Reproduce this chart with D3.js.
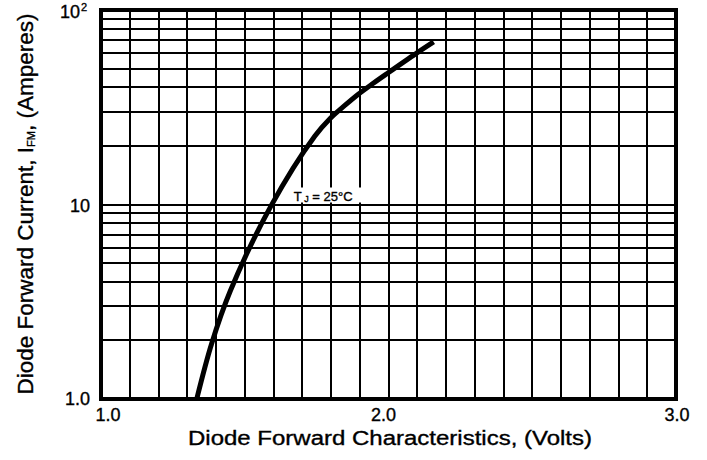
<!DOCTYPE html>
<html><head><meta charset="utf-8">
<script src="https://cdn.jsdelivr.net/npm/d3@7"></script>
<style>
html,body{margin:0;padding:0;background:#fff;}
text{font-family:"Liberation Sans",Arial,Helvetica,sans-serif;fill:#000;stroke:#000;stroke-width:0.35px;}
</style></head>
<body>
<svg id="chart" width="707" height="460"></svg>
<script>
// Data
const voltage = [1.333, 1.385, 1.450, 1.590, 1.744, 1.797, 1.849, 1.895, 1.947, 1.994, 2.098, 2.157];
const current = [1.0, 1.93, 3.6, 9.75, 22.5, 27.7, 32.4, 36.9, 42.0, 47.0, 60.0, 68.5];
const xTicks = [1.0, 2.0, 3.0];
const xTickLabels = ["1.0", "2.0", "3.0"];
const yTickLabels = ["1.0", "10", "10²"];
const yTicks = [1, 10, 100];
const annotation = "25°C";

const svg = d3.select("#chart");
const m = {left: 101, top: 10, right: 676, bottom: 399};
const x = d3.scaleLinear().domain([1, 3]).range([m.left, m.right]);
const y = d3.scaleLog().domain([1, 100]).range([m.bottom, m.top]);

// vertical grid every 0.1 V
const xGrid = d3.range(1, 20).map(i => 1 + i * 0.1);
svg.append("g").selectAll("line").data(xGrid).join("line")
  .attr("x1", d => Math.round(x(d))).attr("x2", d => Math.round(x(d)))
  .attr("y1", m.top).attr("y2", m.bottom)
  .attr("stroke", "#000").attr("stroke-width", 2);

// horizontal grid at log minor ticks
const yGrid = [];
[1, 10].forEach(dec => { for (let k = 2; k <= 10; k++) { if (dec * k < 100) yGrid.push(dec * k); } });
svg.append("g").selectAll("line").data(yGrid).join("line")
  .attr("x1", m.left).attr("x2", m.right)
  .attr("y1", d => Math.round(y(d))).attr("y2", d => Math.round(y(d)))
  .attr("stroke", "#000").attr("stroke-width", 2);

// annotation background
const ax = x(1.66), ay = y(10);
svg.append("rect").attr("x", ax - 4).attr("y", ay - 17).attr("width", 76).attr("height", 15).attr("fill", "#fff");

// frame
svg.append("rect").attr("x", m.left).attr("y", m.top)
  .attr("width", m.right - m.left).attr("height", m.bottom - m.top)
  .attr("fill", "none").attr("stroke", "#000").attr("stroke-width", 4);

// curve
const line = d3.line().x((d, i) => x(voltage[i])).y((d, i) => y(current[i])).curve(d3.curveCatmullRom.alpha(0.5));
svg.append("path").datum(voltage).attr("d", line)
  .attr("fill", "none").attr("stroke", "#000").attr("stroke-width", 5).attr("stroke-linecap", "butt")
  .attr("stroke-linejoin", "round");

// annotation
const at = svg.append("text").attr("x", ax + 3).attr("y", ay - 4)
  .attr("font-size", 13);
at.append("tspan").text("T");
at.append("tspan").attr("font-size", 9).attr("dy", 1).text(" J");
at.append("tspan").attr("dy", -1).text(" = " + annotation);

// x tick labels
const xOff = [7, -5, 1];
svg.append("g").selectAll("text").data(xTicks).join("text")
  .attr("x", (d, i) => x(d) + xOff[i]).attr("y", 421)
  .attr("text-anchor", "middle").attr("font-size", 18)
  .text((d, i) => xTickLabels[i]);

// y tick labels
const yl = svg.append("g");
yTicks.forEach((d, i) => {
  const t = yl.append("text").attr("x", i === 2 ? 80 : 90).attr("y", i === 0 ? y(d) + 6 : (i === 2 ? y(d) + 8 : y(d) + 7))
    .attr("text-anchor", "end").attr("font-size", 18);
  if (i === 2) {
    t.append("tspan").text("10");
    yl.append("text").attr("x", 81).attr("y", y(d) + 1).attr("font-size", 11).text("2");
  } else {
    t.text(yTickLabels[i]);
  }
});

// axis titles
svg.append("text").attr("x", 390).attr("y", 445).attr("text-anchor", "middle")
  .attr("font-size", 20).attr("textLength", 404).attr("lengthAdjust", "spacingAndGlyphs")
  .text("Diode Forward Characteristics, (Volts)");

const yt = svg.append("text").attr("transform", "translate(33,204) rotate(-90)")
  .attr("text-anchor", "middle").attr("font-size", 22.5);
yt.append("tspan").text("Diode Forward Current, I");
yt.append("tspan").attr("font-size", 11).attr("dy", 2).text("FM");
yt.append("tspan").attr("dy", -2).text(", (Amperes)");
</script>
</body></html>
